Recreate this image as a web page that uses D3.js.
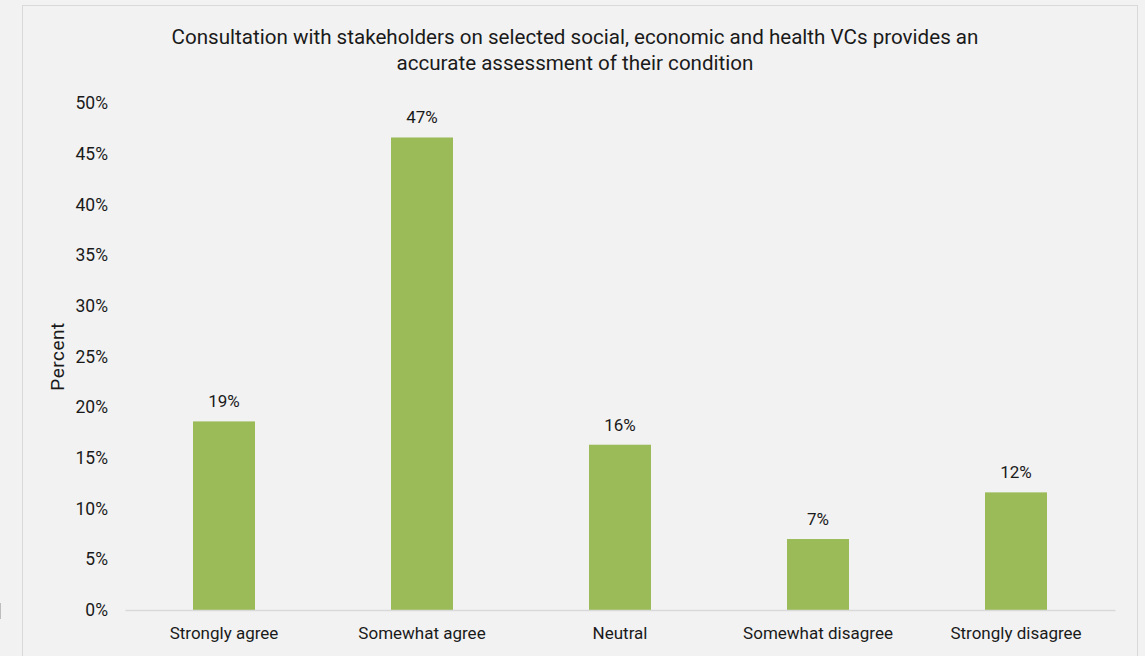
<!DOCTYPE html>
<html>
<head>
<meta charset="utf-8">
<script src="https://cdn.jsdelivr.net/npm/d3@7"></script>
<style>
  html, body { margin: 0; padding: 0; background: #f2f2f2; }
  svg { display: block; }
  text { font-family: Roboto, "Liberation Sans", sans-serif; fill: #1a1a1a; }
</style>
</head>
<body>
<script>
// Survey responses, share of respondents
const categories = ["Strongly agree", "Somewhat agree", "Neutral", "Somewhat disagree", "Strongly disagree"];
const percents = [0.186, 0.466, 0.163, 0.070, 0.116];
const yTicks = [0, 0.05, 0.10, 0.15, 0.20, 0.25, 0.30, 0.35, 0.40, 0.45, 0.50];
const titleLines = [
  "Consultation with stakeholders on selected social, economic and health VCs provides an",
  "accurate assessment of their condition"
];

const W = 1145, H = 656;
const margin = { left: 125, right: 30, top: 103, bottom: 46 };

const svg = d3.select("body").append("svg").attr("width", W).attr("height", H);

svg.append("rect").attr("width", W).attr("height", H).attr("fill", "#f2f2f2");

// chart frame
svg.append("rect")
  .attr("x", 22.5).attr("y", 5.5)
  .attr("width", 1115).attr("height", 660)
  .attr("fill", "#f2f2f2")
  .attr("stroke", "#d9d9d9").attr("stroke-width", 1);

// small mark at the far left edge
svg.append("line").attr("x1", 0.5).attr("x2", 0.5).attr("y1", 603).attr("y2", 619)
  .attr("stroke", "#bdbdbd").attr("stroke-width", 1);

const x = d3.scaleBand().domain(categories)
  .range([margin.left, W - margin.right])
  .paddingInner(0.687).paddingOuter(0.3435);

const y = d3.scaleLinear().domain([0, 0.5]).range([H - margin.bottom, margin.top]);

// title
svg.append("text")
  .attr("x", 575).attr("y", 44)
  .attr("text-anchor", "middle")
  .style("font-size", "20.6px")
  .selectAll("tspan").data(titleLines).join("tspan")
  .attr("x", 575).attr("dy", (d, i) => i === 0 ? 0 : 26)
  .text(d => d);

// y axis (labels only)
const yAxis = d3.axisLeft(y).tickValues(yTicks).tickFormat(d3.format(".0%")).tickSize(0).tickPadding(17);
const gy = svg.append("g").attr("transform", `translate(${margin.left},0)`).call(yAxis);
gy.select(".domain").remove();
gy.selectAll("text").style("font-size", "17.5px").style("font-family", "Roboto, sans-serif").attr("fill", "#1a1a1a");

// y axis title
svg.append("text")
  .attr("transform", `translate(64,${(H - margin.bottom + margin.top) / 2}) rotate(-90)`)
  .attr("text-anchor", "middle")
  .style("font-size", "19px")
  .style("letter-spacing", "0.5px")
  .text("Percent");

// bars
svg.append("g").selectAll("rect").data(percents).join("rect")
  .attr("x", (d, i) => x(categories[i]))
  .attr("width", x.bandwidth())
  .attr("y", d => y(d))
  .attr("height", d => y(0) - y(d))
  .attr("fill", "#9bbb59");

// value labels
svg.append("g").selectAll("text").data(percents).join("text")
  .attr("x", (d, i) => x(categories[i]) + x.bandwidth() / 2)
  .attr("y", d => y(d) - 14)
  .attr("text-anchor", "middle")
  .style("font-size", "17px")
  .text(d => d3.format(".0%")(d));

// x axis
const xAxis = d3.axisBottom(x).tickSize(0).tickPadding(17);
const gx = svg.append("g").attr("transform", `translate(0,${y(0)})`).call(xAxis);
gx.select(".domain").attr("stroke", "#d9d9d9").attr("stroke-width", 1.5);
gx.selectAll("text").style("font-size", "17px").style("font-family", "Roboto, sans-serif").attr("fill", "#1a1a1a");
</script>
</body>
</html>
